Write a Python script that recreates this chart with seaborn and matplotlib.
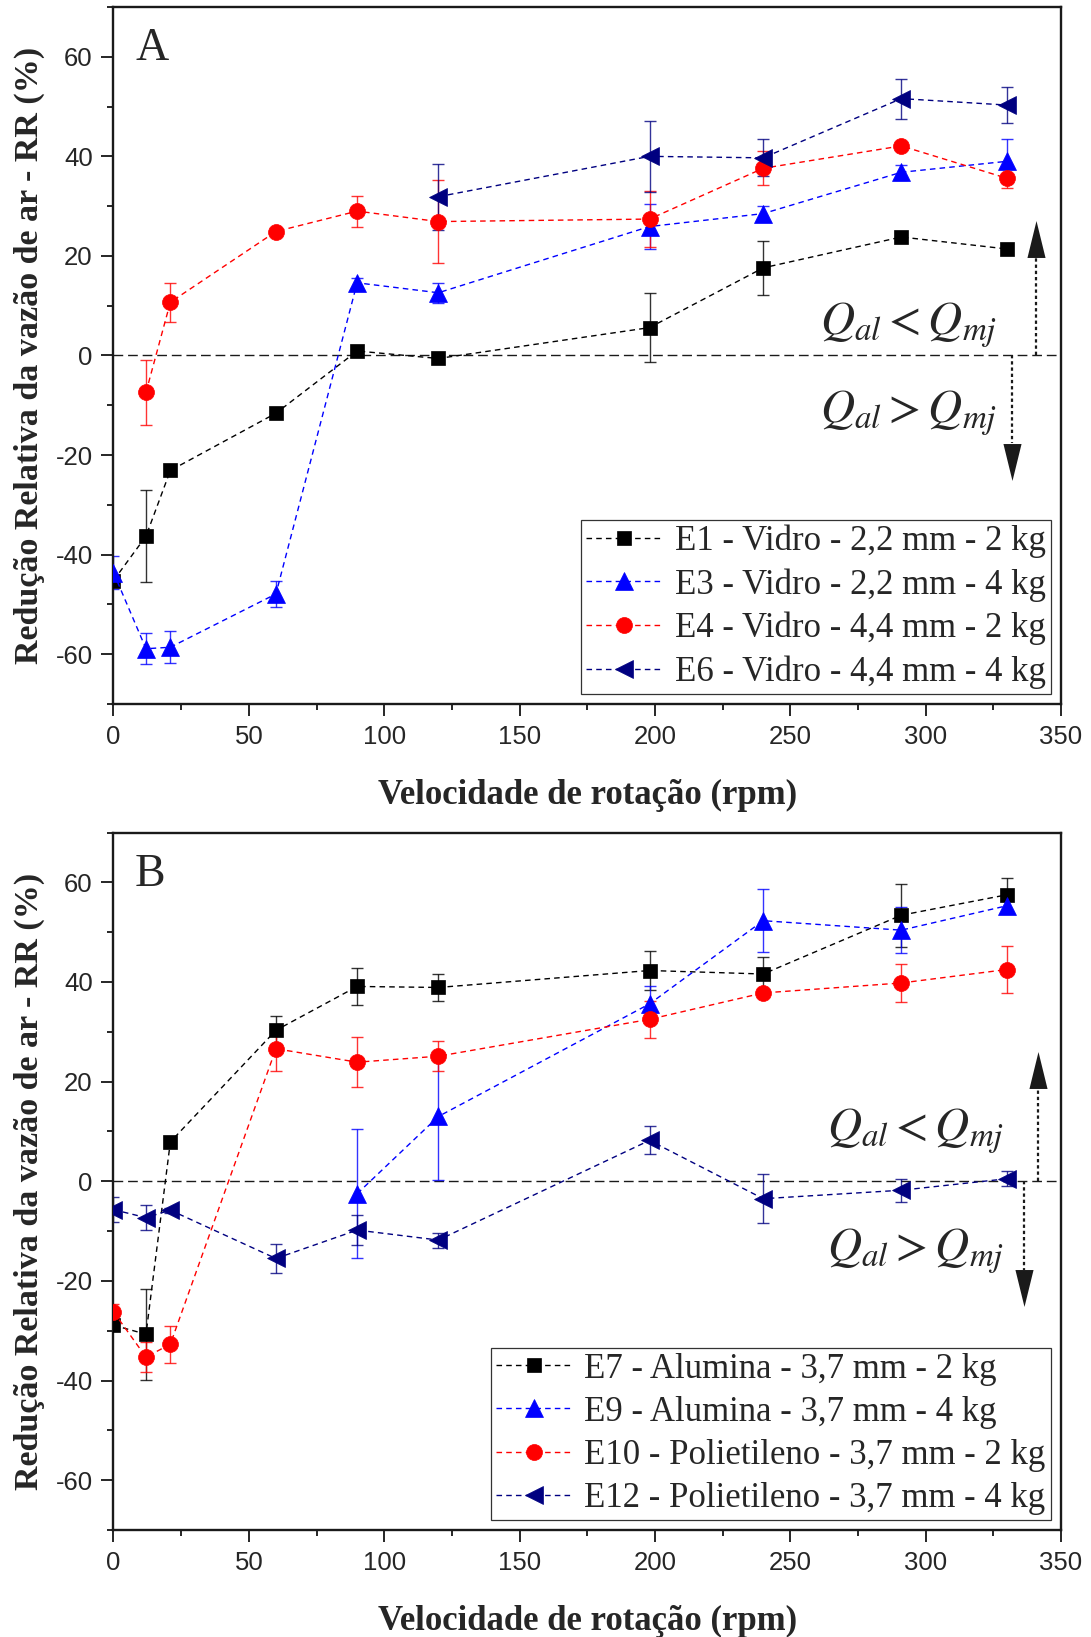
import matplotlib
matplotlib.use("Agg")
import matplotlib.pyplot as plt
from matplotlib.ticker import MultipleLocator, FuncFormatter
import pandas as pd
import seaborn as sns

# ---------------- data: panel A (vidro) ----------------
rpm_full = [0, 12, 21, 60, 90, 120, 198, 240, 291, 330]

e1_rpm = rpm_full
e1_rr = [-45.2, -36.3, -23.1, -11.6, 0.9, -0.6, 5.6, 17.6, 23.8, 21.4]
e1_err = [0.0, 9.2, 0.0, 0.0, 0.0, 0.0, 6.9, 5.4, 0.0, 0.0]

e3_rpm = rpm_full
e3_rr = [-43.6, -58.9, -58.6, -47.9, 14.6, 12.6, 25.9, 28.5, 36.8, 39.0]
e3_err = [3.4, 3.1, 3.2, 2.6, 1.0, 2.0, 4.5, 1.5, 1.5, 4.4]

e4_rpm = [12, 21, 60, 90, 120, 198, 240, 291, 330]
e4_rr = [-7.4, 10.7, 24.9, 29.0, 26.9, 27.4, 37.6, 42.1, 35.6]
e4_err = [6.5, 3.9, 0.5, 3.1, 8.4, 5.6, 3.4, 0.5, 2.0]

e6_rpm = [120, 198, 240, 291, 330]
e6_rr = [31.9, 40.0, 39.7, 51.6, 50.3]
e6_err = [6.6, 7.2, 3.7, 4.0, 3.7]

labels_a = ["E1 - Vidro - 2,2 mm - 2 kg", "E3 - Vidro - 2,2 mm - 4 kg",
            "E4 - Vidro - 4,4 mm - 2 kg", "E6 - Vidro - 4,4 mm - 4 kg"]

# ---------------- data: panel B (alumina / polietileno) ----------------
e7_rpm = rpm_full
e7_rr = [-28.9, -30.7, 7.9, 30.3, 39.1, 38.9, 42.3, 41.6, 53.4, 57.5]
e7_err = [0.0, 9.1, 0.0, 2.8, 3.7, 2.7, 3.9, 3.5, 6.3, 3.4]

e9_rpm = [90, 120, 198, 240, 291, 330]
e9_rr = [-2.5, 13.0, 35.6, 52.3, 50.4, 55.3]
e9_err = [13.0, 12.8, 3.6, 6.3, 4.6, 1.5]

e10_rpm = rpm_full
e10_rr = [-26.2, -35.3, -32.7, 26.6, 23.9, 25.1, 32.5, 37.8, 39.8, 42.5]
e10_err = [1.5, 3.0, 3.7, 4.4, 5.0, 3.0, 3.7, 0.5, 3.9, 4.7]

e12_rpm = rpm_full
e12_rr = [-5.7, -7.3, -5.8, -15.5, -9.8, -11.8, 8.2, -3.5, -1.8, 0.5]
e12_err = [2.5, 2.5, 0.5, 2.9, 3.0, 1.5, 2.8, 4.9, 2.3, 1.5]

labels_b = ["E7 - Alumina - 3,7 mm - 2 kg", "E9 - Alumina - 3,7 mm - 4 kg",
            "E10 - Polietileno - 3,7 mm - 2 kg", "E12 - Polietileno - 3,7 mm - 4 kg"]

x_label = "Velocidade de rotação (rpm)"
y_label = "Redução Relativa da vazão de ar - RR (%)"
txt_less = r"$Q_{al} < Q_{mj}$"
txt_more = r"$Q_{al} > Q_{mj}$"

# ---------------- styling ----------------
sns.set_theme(style="ticks")
plt.rcParams["font.family"] = ["Liberation Sans", "DejaVu Sans"]
plt.rcParams["mathtext.fontset"] = "stix"
plt.rcParams["axes.unicode_minus"] = False

BLACK, BLUE, RED, NAVY = "#000000", "#0000ff", "#ff0000", "#000080"
styles = [(BLACK, "s", 10.0), (BLUE, "^", 13.0), (RED, "o", 11.5), (NAVY, "<", 13.0)]
SERIF = ["Liberation Serif", "DejaVu Serif"]

fig = plt.figure(figsize=(10.91, 16.37), dpi=100)
ax_a = fig.add_axes([0.10403, 0.56995, 0.86847, 0.42578])
ax_b = fig.add_axes([0.10403, 0.06536, 0.86847, 0.42608])

HEAD_UP = [(0, 1), (-0.49, -1), (0.49, -1)]
HEAD_DOWN = [(0, -1), (-0.49, 1), (0.49, 1)]


def draw_panel(ax, series, labels, tag, arrow_up, arrow_down, txt_pos):
    handles = []
    for (xs, ys, es), (col, mk, ms), lab in zip(series, styles, labels):
        ax.errorbar(xs, ys, yerr=es, fmt="none", ecolor=col, elinewidth=1.0,
                    capsize=4.3, capthick=1.0, alpha=0.8, zorder=2)
        df = pd.DataFrame({"rpm": xs, "rr": ys})
        sns.lineplot(data=df, x="rpm", y="rr", ax=ax, color=col, marker=mk,
                     markersize=ms, markeredgecolor=col, markeredgewidth=0.5,
                     linestyle=(0, (4, 3)), linewidth=1.0, errorbar=None,
                     legend=False, zorder=3)
        handles.append(ax.lines[-1])

    ax.axhline(0, color="k", lw=1.0, linestyle=(0, (7, 3.5)), zorder=1)

    # direction arrows: dotted shaft from the zero line plus a tall filled head
    for (ax_x, base, tip) in (arrow_up, arrow_down):
        ax.plot([ax_x, ax_x], [0, base], color="k", lw=1.6,
                linestyle=(0, (1.5, 1.3)), zorder=4)
        mark = HEAD_UP if tip > base else HEAD_DOWN
        ax.plot([ax_x], [(base + tip) / 2], marker=mark, markersize=26.6,
                color="k", markeredgewidth=0, linestyle="none", zorder=4)

    (tx, ty_less, ty_more) = txt_pos
    ax.text(tx, ty_less, txt_less, fontsize=34, ha="right", va="center", zorder=5)
    ax.text(tx, ty_more, txt_more, fontsize=34, ha="right", va="center", zorder=5)

    ax.text(0.0227, 0.97, tag, transform=ax.transAxes, fontsize=33,
            family=SERIF, ha="left", va="top")

    leg = ax.legend(handles=handles, labels=labels, loc="lower right",
                    prop={"family": SERIF, "size": 25}, frameon=True,
                    fancybox=False, framealpha=1, edgecolor="#333333",
                    borderpad=0.14, labelspacing=0.29, handlelength=2.2,
                    handletextpad=0.35, borderaxespad=0.3, numpoints=1)
    leg.get_frame().set_linewidth(0.9)

    ax.set_xlim(0, 350)
    ax.set_ylim(-70, 70)
    ax.xaxis.set_major_locator(MultipleLocator(50))
    ax.xaxis.set_minor_locator(MultipleLocator(25))
    ax.yaxis.set_major_locator(MultipleLocator(20))
    ax.yaxis.set_minor_locator(MultipleLocator(10))
    ax.yaxis.set_major_formatter(FuncFormatter(lambda v, p: f"{v:.0f}"))
    ax.tick_params(which="major", direction="out", length=8.6, width=1.4,
                   labelsize=18.5, pad=6.3, top=False, right=False)
    ax.tick_params(which="minor", direction="out", length=4.3, width=1.4,
                   top=False, right=False)
    for sp in ax.spines.values():
        sp.set_linewidth(1.7)
        sp.set_color("k")
    ax.set_xlabel(x_label, fontsize=25, family=SERIF, fontweight="bold")
    ax.set_ylabel(y_label, fontsize=24.5, family=SERIF, fontweight="bold")
    ax.xaxis.set_label_coords(0.5, -0.107)
    ax.yaxis.set_label_coords(-0.072, 0.5)


series_a = [(e1_rpm, e1_rr, e1_err), (e3_rpm, e3_rr, e3_err),
            (e4_rpm, e4_rr, e4_err), (e6_rpm, e6_rr, e6_err)]
series_b = [(e7_rpm, e7_rr, e7_err), (e9_rpm, e9_rr, e9_err),
            (e10_rpm, e10_rr, e10_err), (e12_rpm, e12_rr, e12_err)]

draw_panel(ax_a, series_a, labels_a, "A",
           arrow_up=(340.6, 19.7, 27.1), arrow_down=(331.8, -17.6, -25.0),
           txt_pos=(326.5, 6.0, -11.6))
draw_panel(ax_b, series_b, labels_b, "B",
           arrow_up=(341.6, 18.6, 25.9), arrow_down=(336.2, -17.8, -25.2),
           txt_pos=(329.0, 10.0, -14.0))

fig.savefig("out.png", dpi=100)
